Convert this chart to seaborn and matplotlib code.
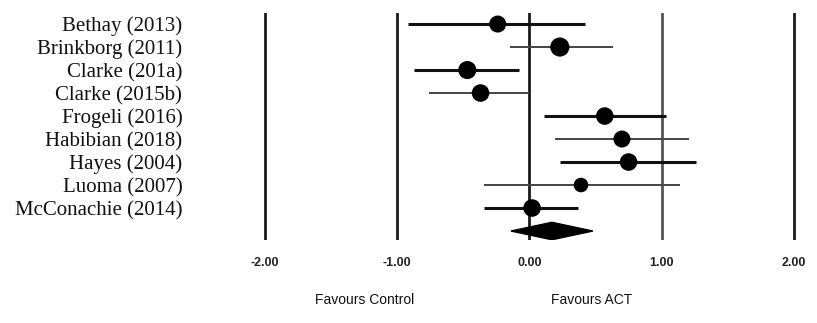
import matplotlib
matplotlib.use("Agg")
import matplotlib.pyplot as plt
import numpy as np
import pandas as pd
import seaborn as sns

studies = ["Bethay (2013)", "Brinkborg (2011)", "Clarke (201a)", "Clarke (2015b)",
           "Frogeli (2016)", "Habibian (2018)", "Hayes (2004)", "Luoma (2007)",
           "McConachie (2014)"]
effect = [-0.24, 0.23, -0.47, -0.37, 0.57, 0.70, 0.75, 0.39, 0.02]
ci_low = [-0.92, -0.15, -0.87, -0.76, 0.11, 0.19, 0.23, -0.34, -0.34]
ci_high = [0.42, 0.63, -0.08, 0.00, 1.03, 1.21, 1.26, 1.14, 0.37]
summary = [-0.14, 0.17, 0.48]  # low, estimate, high
ticks = [-2.0, -1.0, 0.0, 1.0, 2.0]

df = pd.DataFrame({"study": studies, "effect": effect, "lo": ci_low, "hi": ci_high})
df["row"] = np.arange(len(df))

sns.set_style("white")
fig = plt.figure(figsize=(8.17, 3.23), dpi=100)
ax = fig.add_axes([199 / 817, 83 / 323, 608 / 817, 227 / 323])

# reference lines
for t in ticks:
    col = "#555555" if t == 1.0 else "#1a1a1a"
    ax.axvline(t, color=col, lw=2.0, zorder=1)

# confidence intervals: alternating thick dark / thin grey
for i, r in df.iterrows():
    if i % 2 == 0:
        ax.hlines(r["row"], r["lo"], r["hi"], color="#111111", lw=2.2, zorder=2)
    else:
        ax.hlines(r["row"], r["lo"], r["hi"], color="#444444", lw=1.4, zorder=2)

sizes = [150, 190, 170, 160, 160, 150, 160, 110, 160]
sns.scatterplot(data=df, x="effect", y="row", s=sizes, marker="o", color="black",
                edgecolor="black", linewidth=0, zorder=3, ax=ax, legend=False)

# pooled diamond
lo, est, hi = summary
yd = len(studies)
ax.fill([lo, est, hi, est], [yd, yd - 0.38, yd, yd + 0.38], color="black", zorder=3)

ax.set_xlim(-2.5, 2.1)
ax.set_ylim(9.39, -0.48)
ax.set_xticks(ticks)
ax.set_xticklabels([f"{t:.2f}" for t in ticks], fontsize=9, fontweight="semibold",
                   family="Liberation Sans", color="#222222")
ax.set_yticks(df["row"])
ax.set_yticklabels(studies, fontsize=15, family="Liberation Serif", color="#111111")
ax.tick_params(axis="x", length=0, pad=12)
ax.tick_params(axis="y", length=0, pad=12)
ax.set_xlabel("")
ax.set_ylabel("")
for s in ax.spines.values():
    s.set_visible(False)

fig.text(365 / 817, 1 - 300 / 323, "Favours Control", ha="center", va="center",
         fontsize=10, family="Liberation Sans", color="#111111")
fig.text(592 / 817, 1 - 300 / 323, "Favours ACT", ha="center", va="center",
         fontsize=10, family="Liberation Sans", color="#111111")

fig.savefig("out.png", dpi=100)
